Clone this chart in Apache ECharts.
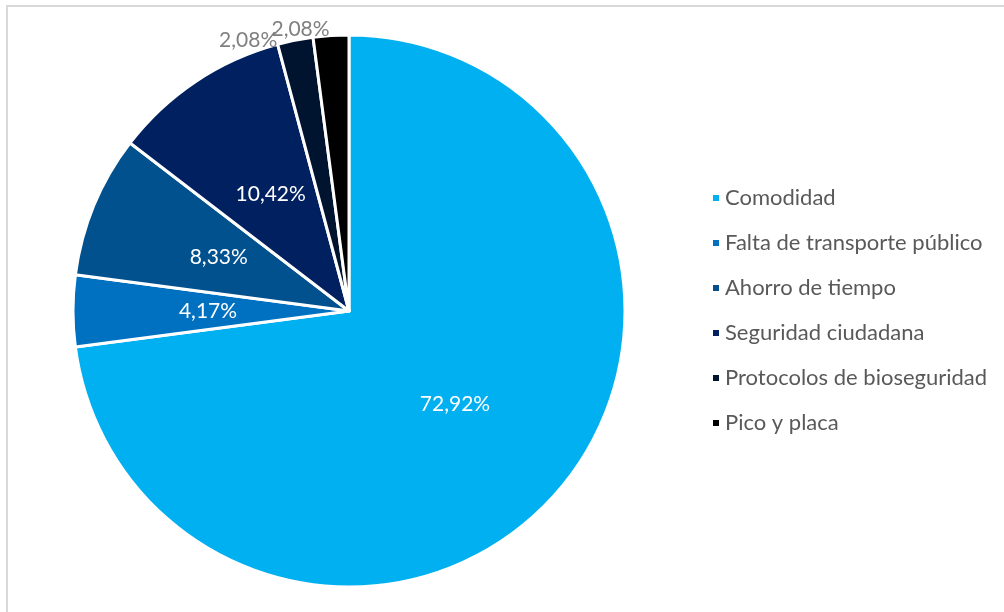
<!DOCTYPE html>
<html>
<head>
<meta charset="utf-8">
<script src="https://cdn.jsdelivr.net/npm/echarts@6/dist/echarts.min.js"></script>
<style>
html,body{margin:0;padding:0;background:#fff;}
#chart{width:1004px;height:612px;}
</style>
</head>
<body>
<div id="chart"></div>
<script>
const categories = ['Comodidad','Falta de transporte público','Ahorro de tiempo','Seguridad ciudadana','Protocolos de bioseguridad','Pico y placa'];
const values = [72.92, 4.17, 8.33, 10.42, 2.08, 2.08];
const colors = ['#00B0F0','#0070C0','#00518E','#002060','#00132F','#000000'];

const FONT = 'Lato';
const outsideLabel = {
  4: { label: { position: 'outside', color: '#808080', distanceToLabelLine: 18 }, labelLine: { show: false, length: 0, length2: 0 } },
  5: { label: { position: 'outside', color: '#808080', distanceToLabelLine: 1 }, labelLine: { show: false, length: 6, length2: 0 } }
};

const data = categories.map((c, i) => Object.assign({ name: c, value: values[i], itemStyle: { color: colors[i] } }, outsideLabel[i] || {}));

const chart = echarts.init(document.getElementById('chart'), null, { renderer: 'canvas' });
chart.setOption({
  backgroundColor: '#ffffff',
  animation: false,
  graphic: [{
    type: 'rect',
    shape: { x: 7, y: 6, width: 1200, height: 800 },
    style: { fill: 'none', stroke: '#D9D9D9', lineWidth: 2 },
    silent: true
  }],
  legend: {
    orient: 'vertical',
    left: 711,
    top: 186,
    padding: 0,
    itemWidth: 8,
    itemHeight: 8,
    itemGap: 21,
    icon: 'rect',
    data: categories,
    textStyle: { fontFamily: FONT, fontSize: 22, color: '#595959', lineHeight: 24 }
  },
  series: [{
    type: 'pie',
    center: [349, 311],
    radius: 276,
    startAngle: 90,
    clockwise: true,
    avoidLabelOverlap: false,
    labelLayout: { hideOverlap: false },
    itemStyle: { borderColor: '#ffffff', borderWidth: 3 },
    label: {
      show: true,
      position: 'inside',
      formatter: p => p.value.toFixed(2).replace('.', ',') + '%',
      fontFamily: FONT,
      fontSize: 21,
      color: '#ffffff'
    },
    labelLine: { show: false },
    emphasis: { disabled: true },
    data: data
  }]
});
</script>
</body>
</html>
